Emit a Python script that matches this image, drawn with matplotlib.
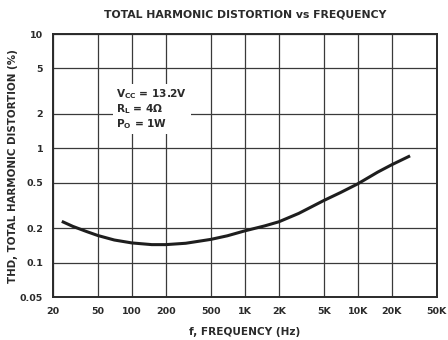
import numpy as np
import matplotlib
matplotlib.use("Agg")
import matplotlib.pyplot as plt

# THD vs frequency
freq = [24, 30, 40, 50, 70, 100, 150, 200, 300, 500, 700, 1000, 1500, 2000,
        3000, 5000, 7000, 10000, 15000, 20000, 29000]
thd = [0.23, 0.208, 0.187, 0.173, 0.158, 0.149, 0.144, 0.144, 0.148, 0.16,
       0.172, 0.19, 0.21, 0.228, 0.27, 0.35, 0.41, 0.49, 0.62, 0.72, 0.86]

xticks = [20, 50, 100, 200, 500, 1000, 2000, 5000, 10000, 20000, 50000]
xlabels = ["20", "50", "100", "200", "500", "1K", "2K", "5K", "10K", "20K", "50K"]
yticks = [0.05, 0.1, 0.2, 0.5, 1, 2, 5, 10]
ylabels = ["0.05", "0.1", "0.2", "0.5", "1", "2", "5", "10"]

plt.rcParams['font.family'] = ['DejaVu Sans']
plt.rcParams['mathtext.fontset'] = 'dejavusans'
ink = '#2a2a2a'

fig = plt.figure(figsize=(4.48, 3.4), dpi=100)
ax = fig.add_axes([0.118, 0.126, 0.857, 0.774])

ax.plot(freq, thd, color="#1e1e1e", linewidth=2.2, solid_capstyle='butt')

ax.set_xscale('log')
ax.set_yscale('log')
ax.set_xlim(20, 50000)
ax.set_ylim(0.05, 10)
ax.set_xticks(xticks)
ax.set_xticklabels(xlabels)
ax.set_yticks(yticks)
ax.set_yticklabels(ylabels)
ax.minorticks_off()
ax.tick_params(length=0, labelsize=6.8, pad=7)
for lab in ax.get_xticklabels() + ax.get_yticklabels():
    lab.set_fontweight('bold')
    lab.set_color(ink)

ax.grid(True, color='#3a3a3a', linewidth=0.9)
for s in ax.spines.values():
    s.set_linewidth(1.4)
    s.set_color(ink)

ax.set_xlabel("f, FREQUENCY (Hz)", fontsize=7.6, fontweight='bold', color=ink, labelpad=8)
ax.set_ylabel("THD, TOTAL HARMONIC DISTORTION (%)", fontsize=7.4, fontweight='bold',
              color=ink)
ax.yaxis.set_label_coords(-0.092, 0.5)
ax.set_title("TOTAL HARMONIC DISTORTION vs FREQUENCY", fontsize=7.8, fontweight='bold',
             color=ink, pad=12)

ax.text(73, 3.4, "$\\mathbf{V_{CC}}$ = 13.2V\n$\\mathbf{R_L}$ = 4\u03a9\n$\\mathbf{P_O}$ = 1W",
        fontsize=7.6, fontweight='bold', color=ink, va='top', ha='left',
        linespacing=1.1,
        bbox=dict(facecolor='white', edgecolor='none', pad=2.5))

fig.savefig("out.png", dpi=100)
